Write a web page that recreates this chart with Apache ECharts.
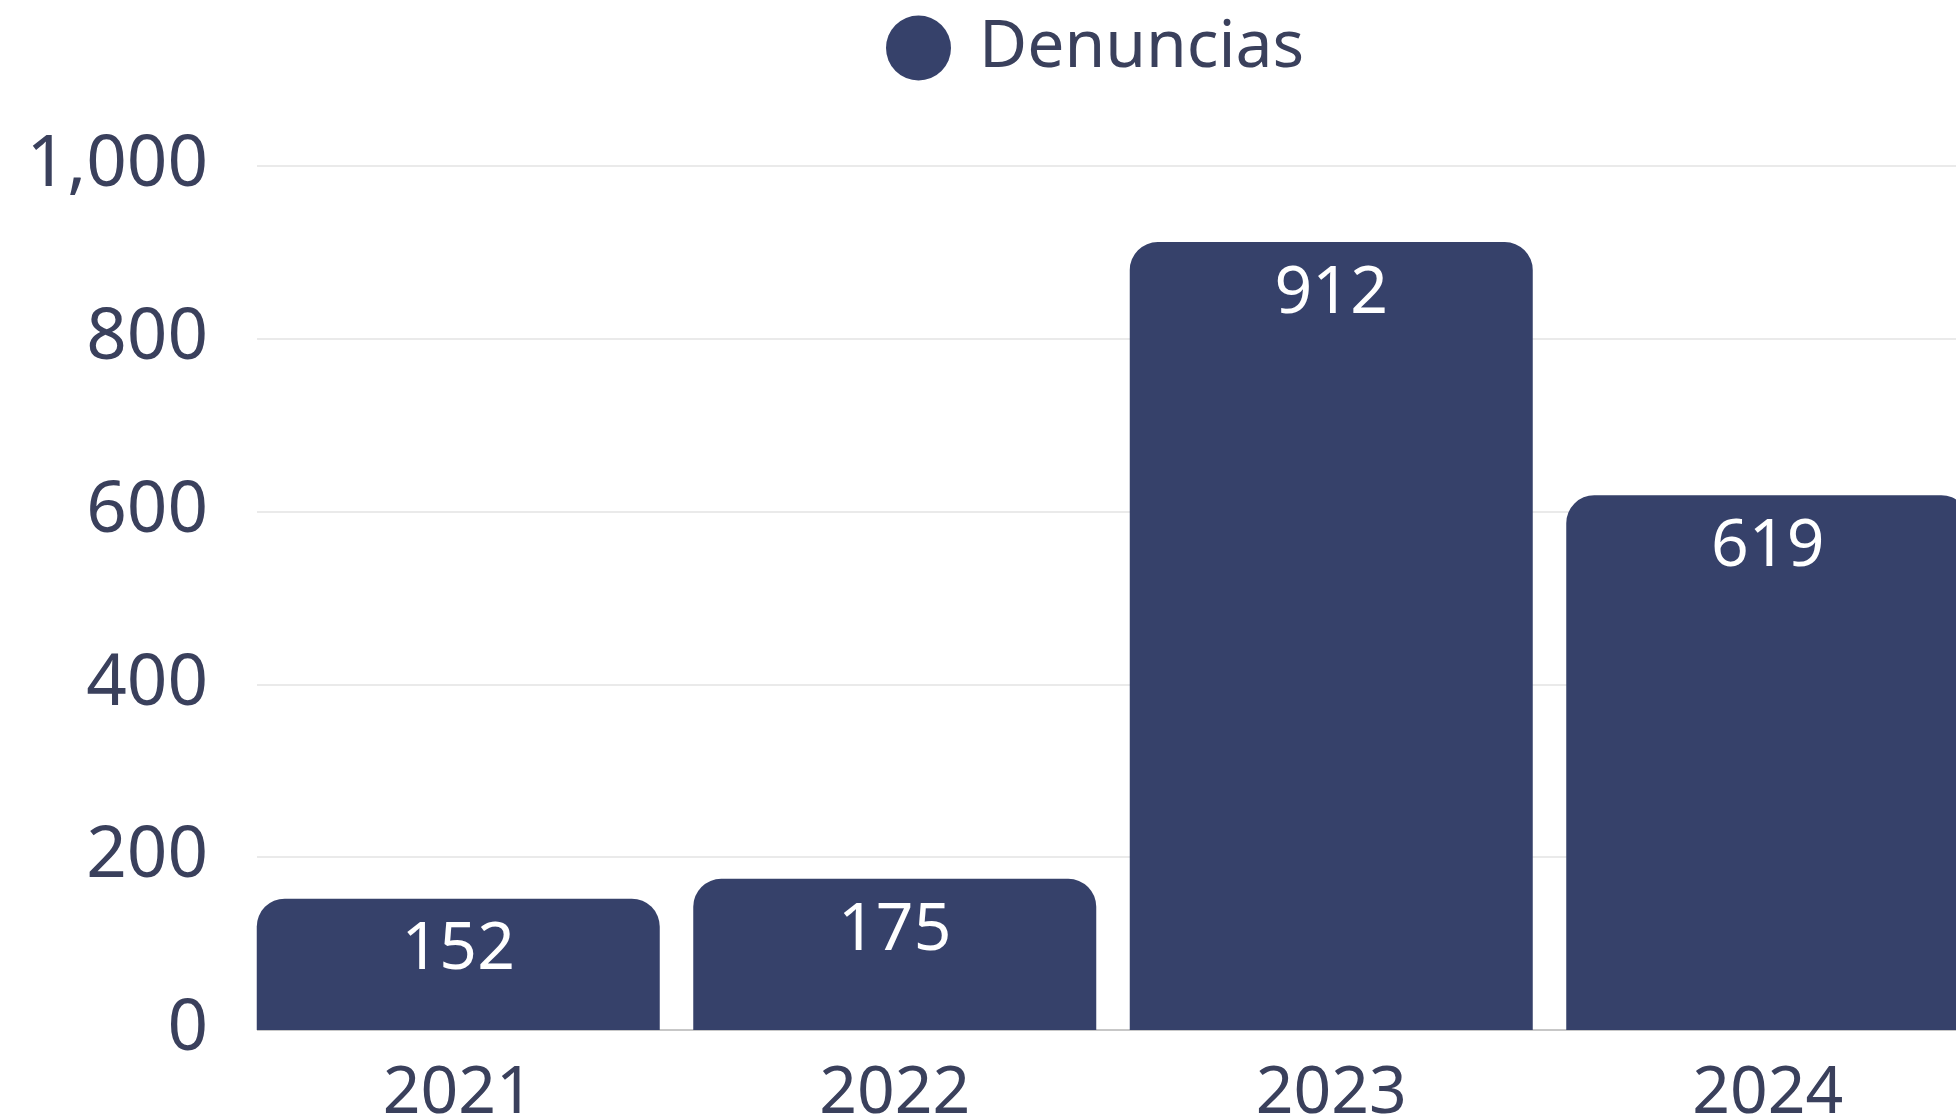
<!DOCTYPE html>
<html>
<head>
<meta charset="utf-8">
<script src="https://cdn.jsdelivr.net/npm/echarts@6/dist/echarts.min.js"></script>
<style>
  html, body { margin: 0; padding: 0; background: #ffffff; }
  #chart { width: 1956px; height: 1120px; }
</style>
</head>
<body>
<div id="chart"></div>
<script>
const categories = ['2021', '2022', '2023', '2024'];
const denuncias = [152, 175, 912, 619];
const seriesName = 'Denuncias';
const yTicks = [0, 200, 400, 600, 800, 1000];

const textColor = '#3a405c';
const barColor = '#36416a';
const fontFamily = '"Noto Sans", sans-serif';

const chart = echarts.init(document.getElementById('chart'), null, { renderer: 'canvas' });
chart.setOption({
  animation: false,
  backgroundColor: '#ffffff',
  textStyle: { fontFamily: fontFamily },
  legend: {
    show: true,
    left: 881,
    top: 10,
    icon: 'circle',
    itemWidth: 65,
    itemHeight: 65,
    itemGap: 20,
    data: [seriesName],
    textStyle: { fontSize: 66, color: textColor, fontFamily: fontFamily, padding: [0, 0, 0, 23] }
  },
  grid: [
    { left: 240, top: 166, height: 864, width: 1746, containLabel: false, outerBoundsMode: 'none' },
    { left: 257, top: 166, height: 864, right: 0, containLabel: false, outerBoundsMode: 'none' }
  ],
  xAxis: [
    {
      type: 'category',
      gridIndex: 0,
      data: categories,
      axisLine: { show: false },
      axisTick: { show: false },
      axisLabel: { fontSize: 66, color: textColor, margin: 31, fontFamily: fontFamily }
    },
    {
      type: 'category',
      gridIndex: 1,
      data: categories,
      show: false
    }
  ],
  yAxis: [
    {
      type: 'value',
      gridIndex: 0,
      min: yTicks[0],
      max: yTicks[yTicks.length - 1],
      interval: 200,
      show: false
    },
    {
      type: 'value',
      gridIndex: 1,
      min: yTicks[0],
      max: yTicks[yTicks.length - 1],
      interval: 200,
      axisLine: { show: false },
      axisTick: { show: false },
      axisLabel: {
        fontSize: 71,
        color: textColor,
        margin: 49,
        fontFamily: fontFamily,
        formatter: function (v) { return v.toLocaleString('en-US'); }
      },
      splitLine: { show: true, lineStyle: { color: ['#b4b4b4', '#e3e3e3', '#e3e3e3', '#e3e3e3', '#e3e3e3', '#e3e3e3'], width: 1.5 } }
    }
  ],
  series: [
    {
      name: seriesName,
      type: 'bar',
      xAxisIndex: 0,
      yAxisIndex: 0,
      data: denuncias,
      barWidth: 403,
      itemStyle: { color: barColor, borderRadius: [28, 28, 0, 0] },
      label: {
        show: true,
        position: 'insideTop',
        distance: 19,
        color: '#ffffff',
        fontSize: 66,
        fontFamily: fontFamily
      },
      z: 5
    }
  ]
});
</script>
</body>
</html>
